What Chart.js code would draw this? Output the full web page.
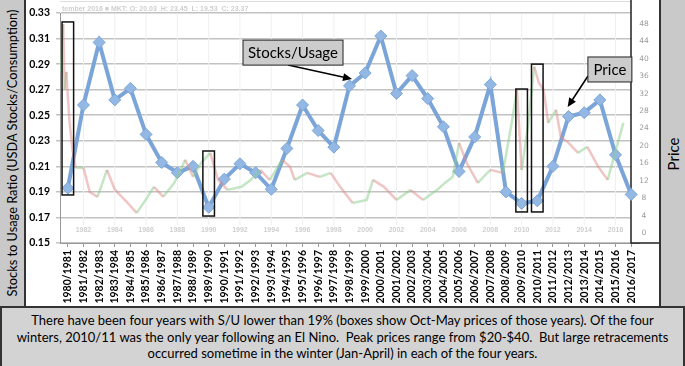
<!DOCTYPE html>
<html>
<head>
<meta charset="utf-8">
<script src="https://cdn.jsdelivr.net/npm/chart.js@4.4.1/dist/chart.umd.min.js"></script>
<style>
  body { margin: 0; width: 685px; height: 366px; position: relative; overflow: hidden; background: #fff; font-family: Lato, sans-serif; }
  #chart { position: absolute; left: 0; top: 0; }
  .strip { position: absolute; top: 0; height: 307px; background: #c9c9c9; }
  #left { left: 0; width: 24px; border-right: 2px solid #333; }
  #right { left: 659px; width: 26px; border-left: 2px solid #333; }
  .rot { position: absolute; white-space: nowrap; transform: translate(-50%, -50%) rotate(-90deg); color: #000; }
  #note { position: absolute; left: 0; top: 306px; width: 681px; height: 56px; background: #d3d3d3; border: 2px solid #333;
          font-size: 13px; line-height: 16.5px; text-align: center; padding-top: 4px; box-sizing: content-box; white-space: pre; }
</style>
</head>
<body>
<canvas id="chart" width="685" height="308"></canvas>
<div class="strip" id="left"><div class="rot" style="left:12px;top:153px;font-size:12.8px;">Stocks to Usage Ratio (USDA Stocks/Consumption)</div></div>
<div class="strip" id="right"><div class="rot" style="left:12px;top:154px;font-size:15px;">Price</div></div>
<div id="note">There have been four years with S/U lower than 19% (boxes show Oct-May prices of those years). Of the four
winters, 2010/11 was the only year following an El Nino.  Peak prices range from $20-$40.  But large retracements
occurred sometime in the winter (Jan-April) in each of the four years.</div>
<script>
const years = ['1980/1981','1981/1982','1982/1983','1983/1984','1984/1985','1985/1986','1986/1987','1987/1988',
  '1988/1989','1989/1990','1990/1991','1991/1992','1992/1993','1993/1994','1994/1995','1995/1996','1996/1997',
  '1997/1998','1998/1999','1999/2000','2000/2001','2001/2002','2002/2003','2003/2004','2004/2005','2005/2006',
  '2006/2007','2007/2008','2008/2009','2009/2010','2010/2011','2011/2012','2012/2013','2013/2014','2014/2015',
  '2015/2016','2016/2017'];
const stocksUsage = [0.193,0.258,0.307,0.262,0.271,0.235,0.213,0.205,0.210,0.178,0.200,0.212,0.205,0.192,0.224,
  0.258,0.238,0.225,0.273,0.283,0.312,0.267,0.281,0.263,0.241,0.206,0.233,0.274,0.190,0.181,0.183,0.210,0.249,
  0.252,0.262,0.219,0.188];
const ratioTicks = [0.15,0.17,0.19,0.21,0.23,0.25,0.27,0.29,0.31,0.33];

// background price trace
const priceDates = [1980.55,1980.7,1980.8,1980.9,1981.1,1981.3,1981.5,1982.0,1982.4,1982.9,1983.5,1984.0,1984.8,
  1985.4,1986.1,1986.5,1987.1,1987.8,1988.5,1989.0,1989.5,1990.1,1990.6,1991.2,1992.1,1992.7,1993.3,1993.9,1994.7,
  1995.2,1995.5,1996.3,1997.1,1997.8,1998.4,1999.2,2000.1,2000.5,2001.2,2002.0,2002.9,2003.7,2004.6,2005.1,2005.6,
  2006.0,2006.5,2007.2,2008.0,2008.8,2009.4,2009.7,2010.0,2010.4,2010.8,2011.1,2011.4,2011.7,2012.2,2012.5,2013.0,
  2013.6,2014.2,2014.9,2015.5,2015.9,2016.5];
const prices = [37,48,33,37,26,19,15,15,9.4,8.3,14.5,10,7,4.6,8.3,10.6,8.3,11.5,16.8,12.9,16,18.4,12.2,9.9,10.6,
  12.2,14.5,12.2,16.8,15.2,12.2,13.8,12.9,13.8,10.6,6.9,7.6,12.2,10.6,7.6,9.9,7.6,9.9,11.5,12.9,20.7,16,11.5,14.5,
  13.8,26,32.9,14.5,24.4,38.2,34.5,32.9,25.3,28.3,22.1,20.7,18.4,19.8,15.2,12.2,17.5,25.3];
const priceTicks = [0,4,8,12,16,20,24,28,32,36,40,44,48];
const priceYearLabels = [1982,1984,1986,1988,1990,1992,1994,1996,1998,2000,2002,2004,2006,2008,2010,2012,2014,2016];

// the four low S/U years, boxed over their Oct-May prices
const boxIndex = [0, 9, 29, 30];
const boxTop = [0.323, 0.222, 0.2705, 0.290];
const boxBottom = [0.1876, 0.1711, 0.1743, 0.1743];

const callouts = [
  { text: 'Stocks/Usage', at: [14.39, 0.299], w: 100, h: 25, from: [14.07, 0.2893], to: [18.16, 0.2783] },
  { text: 'Price', at: [34.64, 0.2858], w: 44, h: 25, from: [33.24, 0.2807], to: [31.94, 0.2564] }
];

const overlay = {
  id: 'overlay',
  beforeDatasetsDraw(chart) {
    const ctx = chart.ctx, xp = chart.scales.xp, yp = chart.scales.yp, a = chart.chartArea;
    ctx.save();
    // frame and header of the pasted price chart
    ctx.strokeStyle = '#dcdcdc'; ctx.lineWidth = 1;
    ctx.beginPath(); ctx.moveTo(a.left, 1.5); ctx.lineTo(631, 1.5); ctx.stroke();
    ctx.fillStyle = '#cfcfcf'; ctx.font = 'bold 7px "Liberation Sans"'; ctx.textBaseline = 'middle';
    ctx.fillText('tember 2016 \u25A0 MKT: O: 20.03  H: 23.45  L: 19.53  C: 23.37', 62, 9);
    ctx.textAlign = 'center';
    priceYearLabels.forEach(yr => {
      const x = xp.getPixelForValue(yr);
      ctx.strokeStyle = '#efefef';
      ctx.beginPath(); ctx.moveTo(x, 14); ctx.lineTo(x, 225); ctx.stroke();
      ctx.fillText(String(yr), x, 230);
    });
    // price axis of the pasted chart
    ctx.fillStyle = '#fff'; ctx.fillRect(631, 0, 29, 243);
    ctx.strokeStyle = '#222'; ctx.lineWidth = 1.5;
    ctx.beginPath(); ctx.moveTo(631, 0); ctx.lineTo(631, 243); ctx.lineTo(660, 243); ctx.stroke();
    ctx.fillStyle = '#9a9a9a'; ctx.font = '7.5px "DejaVu Sans"';
    priceTicks.forEach(t => ctx.fillText(String(t), 644, yp.getPixelForValue(t)));
    ctx.restore();
  },
  afterDatasetsDraw(chart) {
    const ctx = chart.ctx, x = chart.scales.x, y = chart.scales.y;
    const px = i => x.getPixelForValue(i);
    ctx.save();
    ctx.strokeStyle = '#111'; ctx.lineWidth = 1.5;
    boxIndex.forEach((i, k) => {
      const l = px(i - 0.37), r = px(i + 0.37);
      const t = y.getPixelForValue(boxTop[k]), b = y.getPixelForValue(boxBottom[k]);
      ctx.strokeRect(l, t, r - l, b - t);
    });
    callouts.forEach(c => {
      const cx = px(c.at[0]), cy = y.getPixelForValue(c.at[1]);
      const x0 = px(c.from[0]), y0 = y.getPixelForValue(c.from[1]);
      const x1 = px(c.to[0]), y1 = y.getPixelForValue(c.to[1]);
      const ang = Math.atan2(y1 - y0, x1 - x0);
      ctx.strokeStyle = '#000'; ctx.fillStyle = '#000'; ctx.lineWidth = 1.5;
      ctx.beginPath(); ctx.moveTo(x0, y0); ctx.lineTo(x1 - 6 * Math.cos(ang), y1 - 6 * Math.sin(ang)); ctx.stroke();
      ctx.beginPath();
      ctx.moveTo(x1, y1);
      ctx.lineTo(x1 - 9 * Math.cos(ang) + 4 * Math.sin(ang), y1 - 9 * Math.sin(ang) - 4 * Math.cos(ang));
      ctx.lineTo(x1 - 9 * Math.cos(ang) - 4 * Math.sin(ang), y1 - 9 * Math.sin(ang) + 4 * Math.cos(ang));
      ctx.closePath(); ctx.fill();
      ctx.fillStyle = '#cccccc';
      ctx.fillRect(cx - c.w / 2, cy - c.h / 2, c.w, c.h);
      ctx.lineWidth = 1; ctx.strokeStyle = '#222';
      ctx.strokeRect(cx - c.w / 2, cy - c.h / 2, c.w, c.h);
      ctx.fillStyle = '#000'; ctx.font = '15px Lato'; ctx.textAlign = 'center'; ctx.textBaseline = 'middle';
      ctx.fillText(c.text, cx, cy + 1);
    });
    ctx.restore();
  }
};

new Chart(document.getElementById('chart'), {
  type: 'line',
  data: {
    labels: years,
    datasets: [{
      label: 'Price',
      data: priceDates.map((d, i) => ({ x: d, y: prices[i] })),
      xAxisID: 'xp', yAxisID: 'yp',
      borderWidth: 2.5, pointRadius: 0, tension: 0,
      borderColor: 'rgba(225,140,140,0.5)',
      segment: { borderColor: s => s.p1.parsed.y >= s.p0.parsed.y ? 'rgba(140,205,140,0.5)' : 'rgba(225,140,140,0.5)' }
    }, {
      label: 'Stocks/Usage',
      data: stocksUsage,
      xAxisID: 'x', yAxisID: 'y',
      borderColor: '#7ba5d8', borderWidth: 4, tension: 0,
      pointStyle: 'rectRot', pointRadius: 6,
      pointBackgroundColor: '#93b8e4', pointBorderColor: '#7ba5d8', pointBorderWidth: 1
    }]
  },
  options: {
    responsive: false, animation: false,
    layout: { padding: { top: 13, right: 46, left: 0, bottom: 0 } },
    plugins: { legend: { display: false }, tooltip: { enabled: false } },
    scales: {
      x: {
        type: 'category', offset: true,
        afterFit: s => { s.height = 65; },
        grid: { drawOnChartArea: false, tickLength: 4, color: '#999' },
        border: { color: '#999' },
        ticks: { autoSkip: false, minRotation: 90, maxRotation: 90, padding: 3, color: '#000',
                 font: { family: 'Lato', weight: 'bold', size: 10.5 } }
      },
      xp: { type: 'linear', display: false, min: 1980.5, max: 2017.5 },
      y: {
        min: 0.15, max: 0.33,
        afterFit: s => { s.width = 60; },
        afterBuildTicks: s => { s.ticks = ratioTicks.map(v => ({ value: v })); },
        grid: { color: '#c2c2c2', lineWidth: 1.5, tickLength: 4 },
        border: { color: '#999' },
        ticks: { padding: 6, color: '#000', font: { family: 'Lato', weight: 'bold', size: 10.5 },
                 callback: v => v.toFixed(2) }
      },
      yp: { type: 'linear', display: false, position: 'right', min: -2.3, max: 50.53 }
    }
  },
  plugins: [overlay]
});
</script>
</body>
</html>
